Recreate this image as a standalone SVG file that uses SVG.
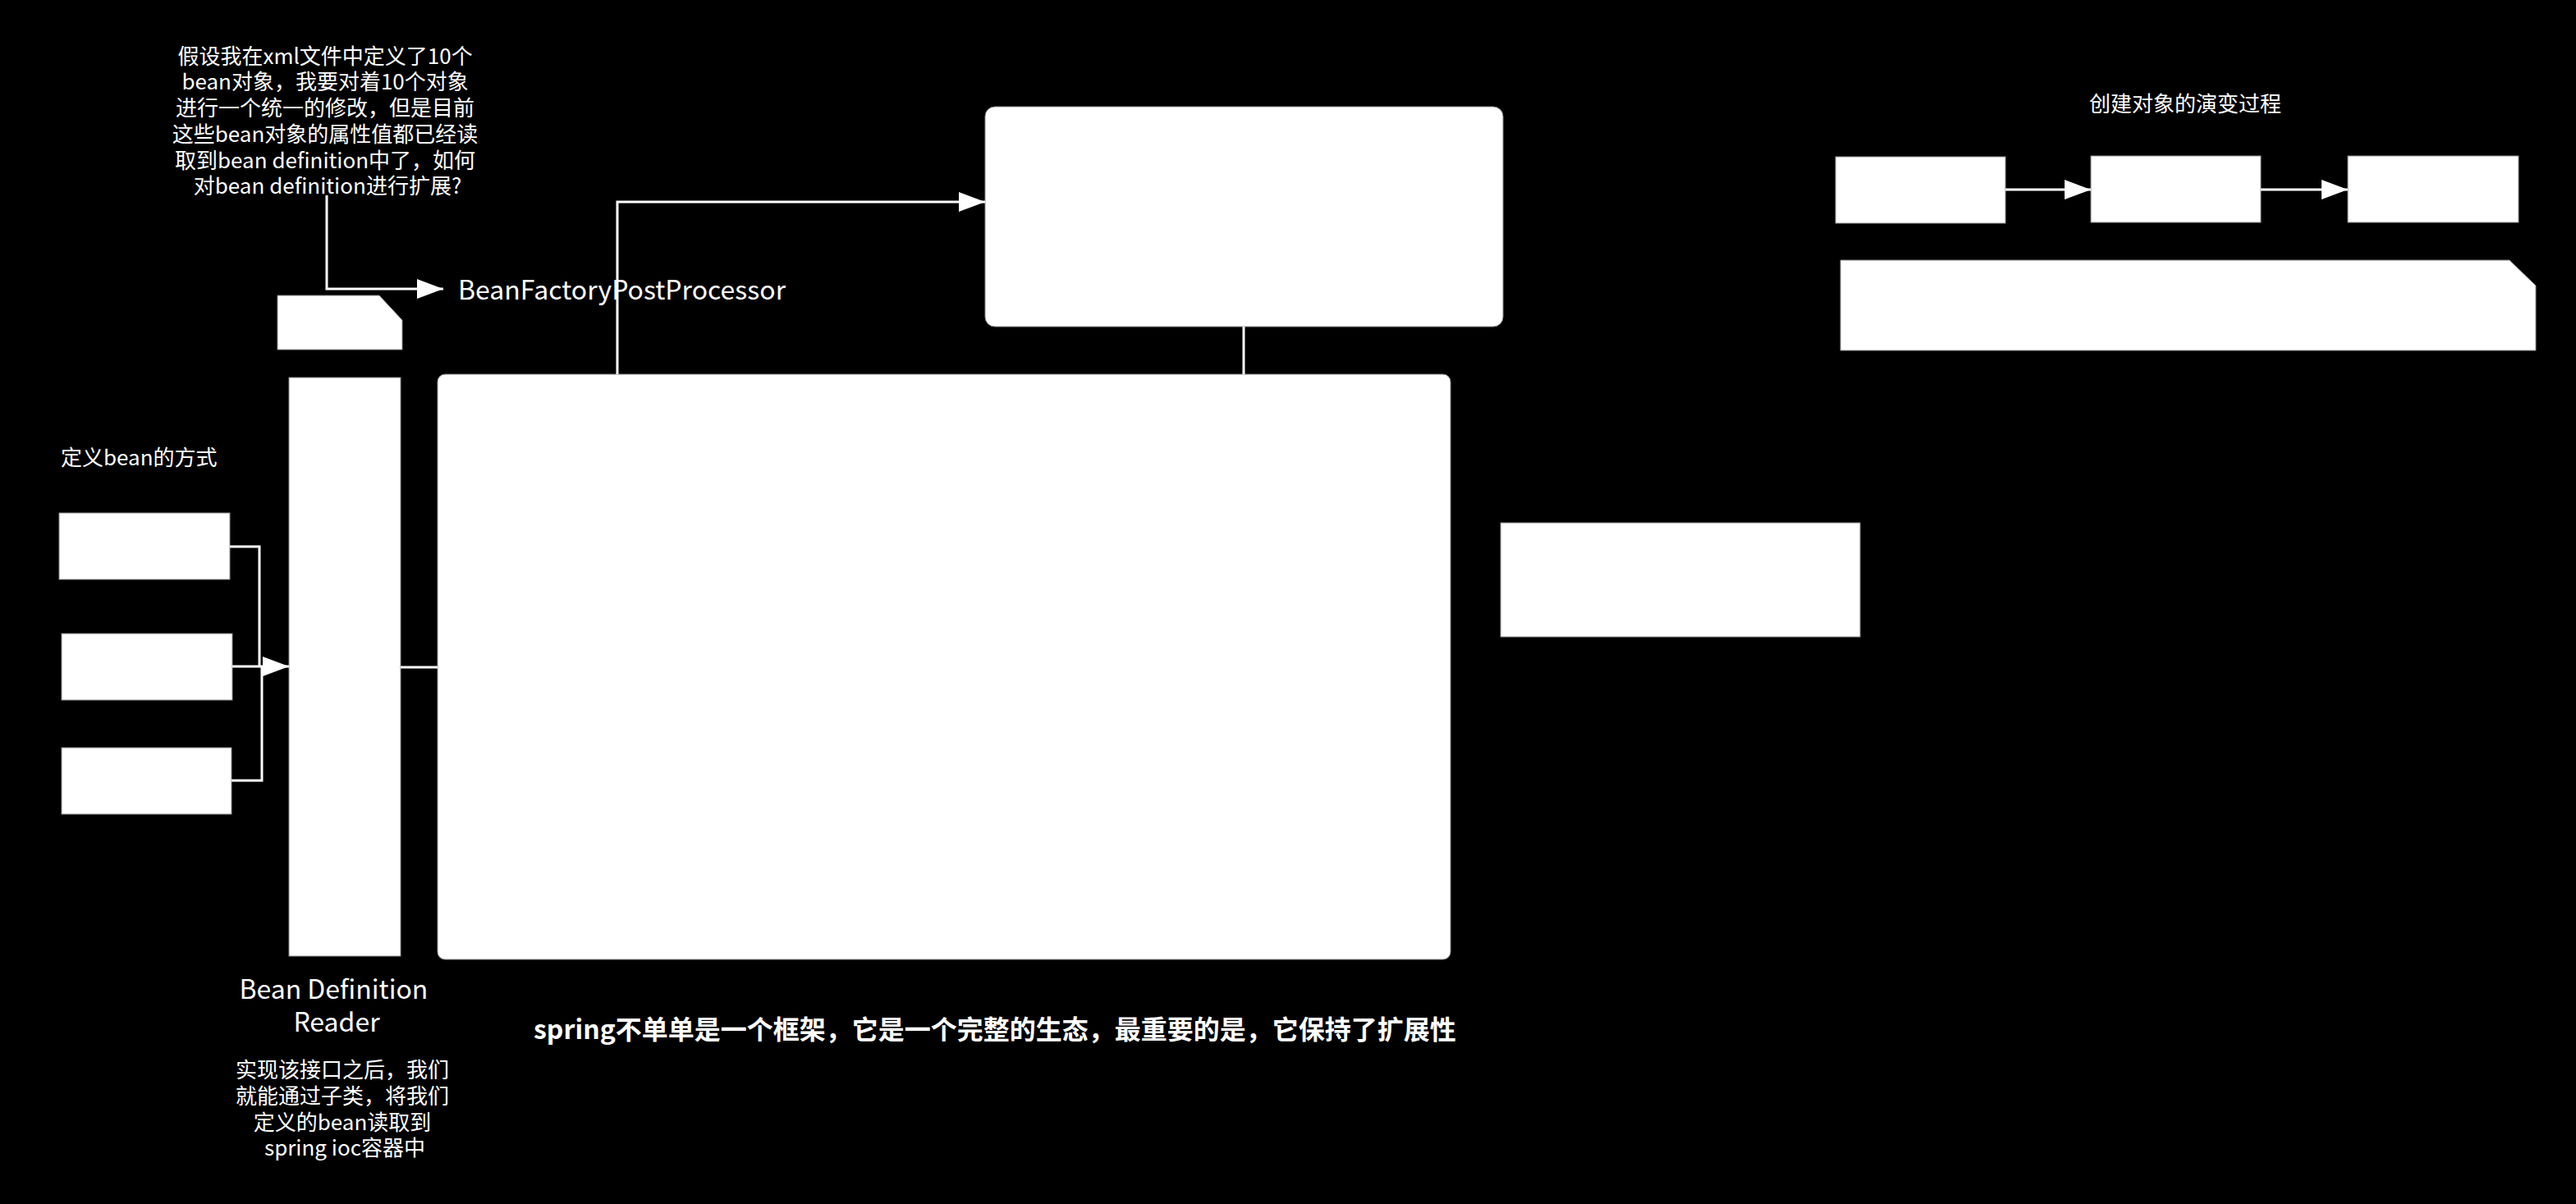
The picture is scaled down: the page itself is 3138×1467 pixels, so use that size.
<svg xmlns="http://www.w3.org/2000/svg" width="3138" height="1467" viewBox="0 0 3138 1467">
<style>
.bg{fill:#000}
.box{fill:#fff;stroke:#8a8a8a;stroke-width:1}
.t{fill:#fff;font-family:"Noto Sans CJK SC","Noto Sans",sans-serif}
.c{fill:none;stroke:#fff;stroke-width:3}
</style>
<defs>
<marker id="arr" viewBox="0 0 32 24" refX="32" refY="12" markerWidth="32" markerHeight="24" orient="auto" markerUnits="userSpaceOnUse">
<path d="M0,0 L32,12 L0,24 Z" fill="#fff"/>
</marker>
</defs>
<rect class="bg" x="0" y="0" width="3138" height="1467"/>

<g id="note-top">
<text class="t" font-size="26" text-anchor="middle">
<tspan x="399" y="78">假设我在xml文件中定义了10个</tspan>
<tspan x="399" y="109">bean对象，我要对着10个对象</tspan>
<tspan x="399" y="141">进行一个统一的修改，但是目前</tspan>
<tspan x="399" y="173">这些bean对象的属性值都已经读</tspan>
<tspan x="399" y="205">取到bean definition中了，如何</tspan>
<tspan x="399" y="236">对bean definition进行扩展?</tspan>
</text>
</g>

<g id="label-bfpp">
<text class="t" x="558" y="365" font-size="32">BeanFactoryPostProcessor</text>
</g>

<g id="doc-small">
<path class="box" d="M338,360 L462,360 L490,390 L490,426 L338,426 Z"/>
</g>

<g id="label-define">
<text class="t" x="74" y="567" font-size="26">定义bean的方式</text>
</g>

<g id="def-box-1"><rect class="box" x="72" y="625" width="208" height="81"/></g>
<g id="def-box-2"><rect class="box" x="75" y="772" width="208" height="81"/></g>
<g id="def-box-3"><rect class="box" x="75" y="911" width="207" height="81"/></g>

<g id="reader"><rect class="box" x="352" y="460" width="136" height="705"/></g>

<g id="container"><rect class="box" x="533" y="456" width="1234" height="713" rx="9" ry="9"/></g>

<g id="top-box"><rect class="box" x="1200" y="130" width="631" height="268" rx="12" ry="12"/></g>

<g id="right-box"><rect class="box" x="1828" y="637" width="438" height="139"/></g>

<g id="title-evolution">
<text class="t" x="2662" y="136" font-size="26" text-anchor="middle">创建对象的演变过程</text>
</g>

<g id="evo-1"><rect class="box" x="2236" y="191" width="207" height="81"/></g>
<g id="evo-2"><rect class="box" x="2547" y="190" width="207" height="81"/></g>
<g id="evo-3"><rect class="box" x="2860" y="190" width="208" height="81"/></g>

<g id="doc-long">
<path class="box" d="M2242,317 L3057,317 L3089,348 L3089,427 L2242,427 Z"/>
</g>

<g id="label-reader">
<text class="t" font-size="32" text-anchor="middle">
<tspan x="410" y="1217">Bean Definition</tspan>
<tspan x="410" y="1257">Reader</tspan>
</text>
</g>

<g id="note-reader">
<text class="t" font-size="26" text-anchor="middle">
<tspan x="420" y="1313">实现该接口之后，我们</tspan>
<tspan x="420" y="1345">就能通过子类，将我们</tspan>
<tspan x="420" y="1377">定义的bean读取到</tspan>
<tspan x="420" y="1408">spring ioc容器中</tspan>
</text>
</g>

<g id="note-spring">
<text class="t" x="650" y="1266" font-size="32" font-weight="bold">spring不单单是一个框架，它是一个完整的生态，最重要的是，它保持了扩展性</text>
</g>

<g id="connectors">
<path class="c" d="M398,238 L398,352 L540,352" marker-end="url(#arr)"/>
<path class="c" d="M280,666 L316,666 L316,812"/>
<path class="c" d="M282,951 L319,951 L319,812"/>
<path class="c" d="M283,812 L352,812" marker-end="url(#arr)"/>
<path class="c" d="M488,813 L533,813"/>
<path class="c" d="M752,456 L752,246 L1200,246" marker-end="url(#arr)"/>
<path class="c" d="M1515,398 L1515,456"/>
<path class="c" d="M2443,231 L2547,231" marker-end="url(#arr)"/>
<path class="c" d="M2754,231 L2860,231" marker-end="url(#arr)"/>
</g>
</svg>
